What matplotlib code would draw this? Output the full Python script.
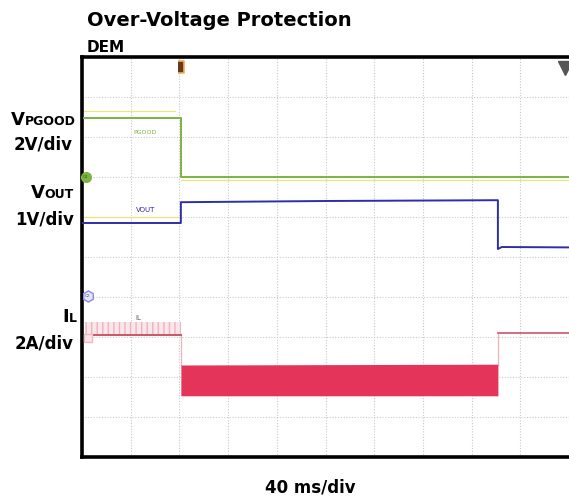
"""
Over-Voltage Protection (DEM) scope capture, redrawn with matplotlib.
Axes are in scope divisions: 10 across, 10 high.
"""

import matplotlib
matplotlib.use("Agg")
import matplotlib.pyplot as plt

W, H = 569, 501

# --- traces (x and y in divisions) ---
pgood_t = [0.04, 2.03, 2.03, 10.0]
pgood_v = [8.48, 8.48, 7.00, 7.00]

vout_t = [0.0, 2.03, 2.03, 5.0, 8.54, 8.54, 8.62, 10.0]
vout_v = [5.85, 5.85, 6.37, 6.40, 6.42, 5.20, 5.25, 5.24]

# inductor current before the fault: baseline with switching ripple
il_pre_t = [0.06, 2.03]
il_pre_base = [3.05, 3.05]
il_pre_peak = [3.38, 3.38]
# during OVP the current switches fast and reads as a filled band
il_ovp_t = [2.03, 8.54]
il_ovp_lo = [1.53, 1.53]
il_ovp_hi = [2.30, 2.32]
il_post_t = [8.54, 10.0]
il_post_v = [3.10, 3.10]

# faint yellow ghost traces
ghost_segments = [([0.0, 1.9], [8.65, 8.65]),
                  ([0.0, 2.03], [6.00, 6.00]),
                  ([2.03, 10.0], [6.93, 6.93])]

GREEN = "#7cb342"
BLUE = "#2e2ea8"
RED = "#e5345a"
PINK = "#c9576a"
PALE = "#eeb3bd"

fig = plt.figure(figsize=(W / 100, H / 100), dpi=100, facecolor="white")
ax = fig.add_axes([82 / W, 1 - 457 / H, 1 - 82 / W, 400 / H])
ax.set_xlim(0, 10)
ax.set_ylim(0, 10)

# dotted scope grid
for k in range(1, 10):
    ax.axvline(k, color="#c8c8c8", lw=0.8, ls=(0, (1, 1.5)), zorder=0)
    ax.axhline(k, color="#c8c8c8", lw=0.8, ls=(0, (1, 1.5)), zorder=0)

for xs, ys in ghost_segments:
    ax.plot(xs, ys, color="#ece37a", lw=0.9, zorder=1)

ax.plot(pgood_t, pgood_v, color=GREEN, lw=1.4, zorder=3)
ax.plot(vout_t, vout_v, color=BLUE, lw=1.4, zorder=3)

ax.fill_between(il_pre_t, il_pre_base, il_pre_peak, facecolor="#f9e6e9",
                edgecolor=PALE, hatch="|||", lw=0, zorder=2)
ax.plot(il_pre_t, il_pre_base, color=PINK, lw=1.4, zorder=3)
ax.plot([2.03, 2.03], [3.05, 2.30], color=PALE, lw=0.9, zorder=2)
ax.fill_between(il_ovp_t, il_ovp_lo, il_ovp_hi, color=RED, lw=0, zorder=3)
ax.plot([8.54, 8.54], [2.30, 3.10], color=PALE, lw=0.9, zorder=2)
ax.plot(il_post_t, il_post_v, color=PINK, lw=1.2, zorder=3)

# channel ground markers, trigger marker, corner marker
ax.plot(0.08, 7.0, "o", ms=7, mfc=GREEN, mec=GREEN, zorder=4, clip_on=False)
ax.text(0.08, 7.0, "C4", fontsize=3, color="#2f5a10", ha="center",
        va="center", zorder=5)
ax.plot(0.12, 4.02, "h", ms=8, mfc="#e6e6fb", mec="#8c8ce0", zorder=4,
        clip_on=False)
ax.text(0.12, 4.02, "C2", fontsize=3, color="#5050c0", ha="center",
        va="center", zorder=5)
ax.plot(0.12, 2.98, "s", ms=6, mfc="#fbe4e8", mec="#f0b8c2", zorder=4)
trig = [(-1, -2), (1, -2), (1, 2), (-1, 2)]
ax.plot(2.03, 9.75, marker=trig, ms=9, mfc="#6b3a1a", mec="#f0b060",
        mew=1.2, zorder=4)
ax.plot(9.91, 9.72, "v", ms=10, color="#555555", zorder=4)

ax.text(1.30, 8.12, "PGOOD", fontsize=4.5, color=GREEN, ha="center",
        va="center")
ax.text(1.30, 6.17, "VOUT", fontsize=5, color=BLUE, ha="center",
        va="center")
ax.text(1.15, 3.47, "IL", fontsize=5, color="#555555", ha="center",
        va="center")

ax.set_xticks([])
ax.set_yticks([])
for side in ("left", "top", "bottom"):
    ax.spines[side].set_linewidth(2.6)
    ax.spines[side].set_color("black")
ax.spines["right"].set_visible(False)

FONT = "DejaVu Sans"
renderer = fig.canvas.get_renderer()


def small_caps_label(x_px, y_px, big, small, big_size=13, small_size=9):
    t = fig.text(x_px / W, 1 - y_px / H, small, ha="right", va="baseline",
                 fontsize=small_size, weight="bold", family=FONT)
    bb = t.get_window_extent(renderer=renderer)
    fig.text(bb.x0 / W, 1 - y_px / H, big, ha="right", va="baseline",
             fontsize=big_size, weight="bold", family=FONT)


def plain_label(x_px, y_px, s, size=12, ha="right"):
    fig.text(x_px / W, 1 - y_px / H, s, ha=ha, va="baseline",
             fontsize=size, weight="bold", family=FONT)


small_caps_label(76, 125, "V", "PGOOD")
plain_label(73, 150, "2V/div")
small_caps_label(74, 198, "V", "OUT")
plain_label(74, 224, "1V/div")
small_caps_label(77, 322, "I", "L")
plain_label(74, 348, "2A/div")

plain_label(87, 26, "Over-Voltage Protection", size=14, ha="left")
plain_label(87, 52, "DEM", size=11, ha="left")
plain_label(310, 493, "40 ms/div", size=12, ha="center")

fig.savefig("out.png", dpi=100, facecolor="white")
